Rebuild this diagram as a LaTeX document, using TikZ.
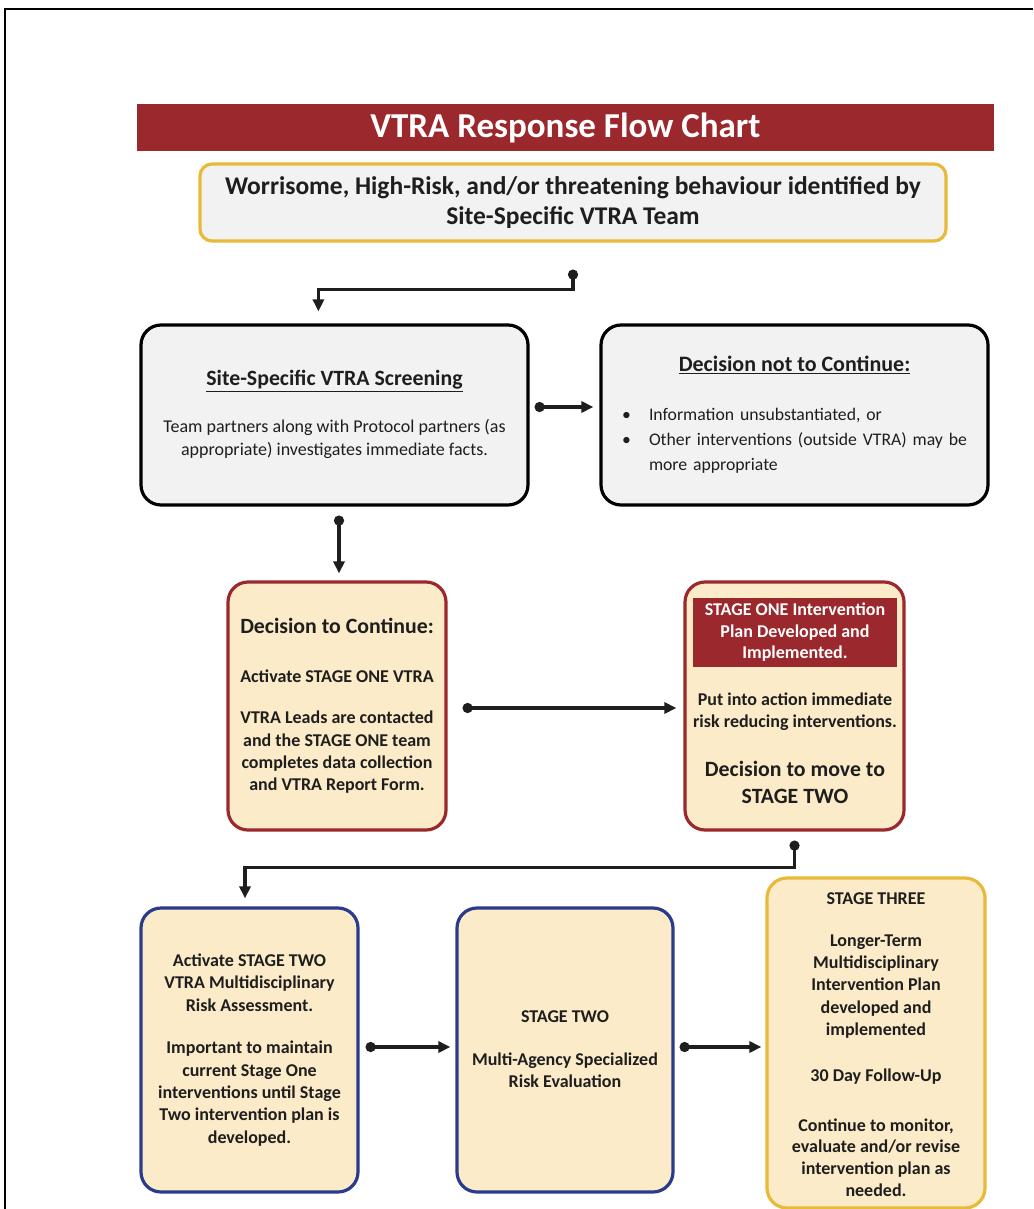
\documentclass[tikz,border=0pt]{standalone}
\usepackage{fontspec}
\setmainfont{Carlito}
\usetikzlibrary{arrows.meta,calc}
\definecolor{vred}{RGB}{155,40,45}
\definecolor{vyellow}{RGB}{233,185,58}
\definecolor{vgray}{RGB}{242,242,242}
\definecolor{vpeach}{RGB}{252,235,200}
\definecolor{vblue}{RGB}{43,59,140}
\definecolor{vtext}{RGB}{30,30,30}
\begin{document}
\begin{tikzpicture}[x=1pt,y=-1pt,
  box/.style={rounded corners=20pt, line width=3.2pt, inner sep=0pt, align=center},
  graybox/.style={box, draw=black, fill=vgray},
  redbox/.style={box, draw=vred, fill=vpeach},
  bluebox/.style={box, draw=vblue, fill=vpeach},
  yelbox/.style={box, draw=vyellow, fill=vpeach},
  txt/.style={align=center, inner sep=0pt, text=vtext},
  body/.style={txt, font=\fontsize{18}{22.3}\selectfont},
  bbody/.style={txt, font=\fontsize{18}{22.3}\selectfont\bfseries},
  head/.style={txt, font=\fontsize{21.8}{27}\selectfont\bfseries},
  conn/.style={line width=3.6pt, draw=vtext, {Circle[length=10pt]}-{Triangle[length=12pt,width=11pt]}}
]
\useasboundingbox (0,0) rectangle (1033,1209);
\fill[white] (0,0) rectangle (1033,1209);
\draw[line width=2pt] (5,1209) -- (5,9) -- (1033,9);

% title bar
\node[fill=vred, minimum width=857pt, minimum height=47pt, inner sep=0pt,
  text=white, font=\fontsize{35}{40}\selectfont\bfseries] (title) at (565.5,127.5) {VTRA Response Flow Chart};

% top box
\node[box, draw=vyellow, fill=vgray, rounded corners=12pt, minimum width=746pt, minimum height=77pt,
  text=vtext, font=\fontsize{25.5}{30}\selectfont\bfseries] (top) at (573,202.5)
  {Worrisome, High-Risk, and/or threatening behaviour identified by\\ Site-Specific VTRA Team};

% screening row
\node[graybox, minimum width=387pt, minimum height=180pt] (screen) at (334.5,415) {};
\node[head] (scrT) at (334.5,381) {\underline{Site-Specific VTRA Screening}};
\node[body] (scrB) at (334.5,439) {Team partners along with Protocol partners (as\\ appropriate) investigates immediate facts.};

\node[graybox, minimum width=387pt, minimum height=180pt] (notcont) at (794.5,415) {};
\node[head, font=\fontsize{22}{27}\selectfont\bfseries] (ncT) at (794.5,365) {\underline{Decision not to Continue:}};
\node[txt, align=left, text width=345pt, font=\fontsize{17.7}{25}\selectfont] (ncB) at (794.5,441)
  {\makebox[27pt][l]{\textbullet}Information unsubstantiated, or\\
   \makebox[27pt][l]{\textbullet}Other interventions (outside VTRA) may be\\
   \hspace*{27pt}more appropriate};

% stage one row
\node[redbox, minimum width=218pt, minimum height=248pt] (cont) at (337,706) {};
\node[head] (contT) at (337,626) {Decision to Continue:};
\node[bbody] (contA) at (337,676) {Activate STAGE ONE VTRA};
\node[bbody] (contB) at (337,752.5) {VTRA Leads are contacted\\ and the STAGE ONE team\\ completes data collection\\ and VTRA Report Form.};

\node[redbox, minimum width=219pt, minimum height=248pt] (s1) at (794.5,706) {};
\node[fill=vred, minimum width=204pt, minimum height=69pt, inner sep=0pt, align=center,
  text=white, font=\fontsize{18}{21.5}\selectfont\bfseries] (s1head) at (795,632.5)
  {STAGE ONE Intervention\\ Plan Developed and\\ Implemented.};
\node[bbody] (s1B) at (795,712) {Put into action immediate\\ risk reducing interventions.};
\node[head] (s1C) at (795,782.5) {Decision to move to\\ STAGE TWO};

% stage two / three row
\node[bluebox, minimum width=217pt, minimum height=284pt] (a2) at (249.5,1050) {};
\node[bbody] (a2A) at (249.5,982.5) {Activate STAGE TWO\\ VTRA Multidisciplinary\\ Risk Assessment.};
\node[bbody] (a2B) at (249.5,1093.5) {Important to maintain\\ current Stage One\\ interventions until Stage\\ Two intervention plan is\\ developed.};

\node[bluebox, minimum width=216pt, minimum height=284pt] (s2) at (565,1050) {};
\node[bbody] (s2A) at (565,1017) {STAGE TWO};
\node[bbody] (s2B) at (565,1070) {Multi-Agency Specialized\\ Risk Evaluation};

\node[yelbox, minimum width=218pt, minimum height=330pt] (s3) at (876,1043) {};
\node[bbody] (s3A) at (876,899) {STAGE THREE};
\node[bbody] (s3B) at (876,986.5) {Longer-Term\\ Multidisciplinary\\ Intervention Plan\\ developed and\\ implemented};
\node[bbody] (s3C) at (876,1077) {30 Day Follow-Up};
\node[bbody, font=\fontsize{18}{21.7}\selectfont\bfseries] (s3D) at (876,1157.5) {Continue to monitor,\\ evaluate and/or revise\\ intervention plan as\\ needed.};

% connectors
\coordinate (c1s) at ([yshift=-27pt]top.south);
\coordinate (c1t) at ([xshift=179pt,yshift=12pt]screen.north west);
\draw[conn] (c1s) -- ++(0,20) -| (c1t);

\coordinate (c2s) at ([xshift=5pt,yshift=8pt]screen.east);
\coordinate (c2t) at ([xshift=-6pt,yshift=8pt]notcont.west);
\draw[conn] (c2s) -- (c2t);

\coordinate (c3s) at ([xshift=4.5pt,yshift=-9pt]screen.south);
\coordinate (c3t) at ([xshift=2pt,yshift=7pt]cont.north);
\draw[conn] (c3s) -- (c3t);

\coordinate (c4s) at ([xshift=15pt,yshift=-2pt]cont.east);
\coordinate (c4t) at ([xshift=-7pt,yshift=-2pt]s1.west);
\draw[conn] (c4s) -- (c4t);

\coordinate (c5s) at ([yshift=-9pt]s1.south);
\coordinate (c5t) at ([xshift=-4.5pt,yshift=8pt]a2.north);
\draw[conn] (c5s) -- ++(0,27) -| (c5t);

\coordinate (c6s) at ([xshift=6pt,yshift=3pt]a2.east);
\coordinate (c6t) at ([xshift=-5pt,yshift=3pt]s2.west);
\draw[conn] (c6s) -- (c6t);

\coordinate (c7s) at ([xshift=5pt,yshift=3pt]s2.east);
\coordinate (c7t) at ([xshift=-4pt]s3.west |- c7s);
\draw[conn] (c7s) -- (c7t);
\end{tikzpicture}
\end{document}
